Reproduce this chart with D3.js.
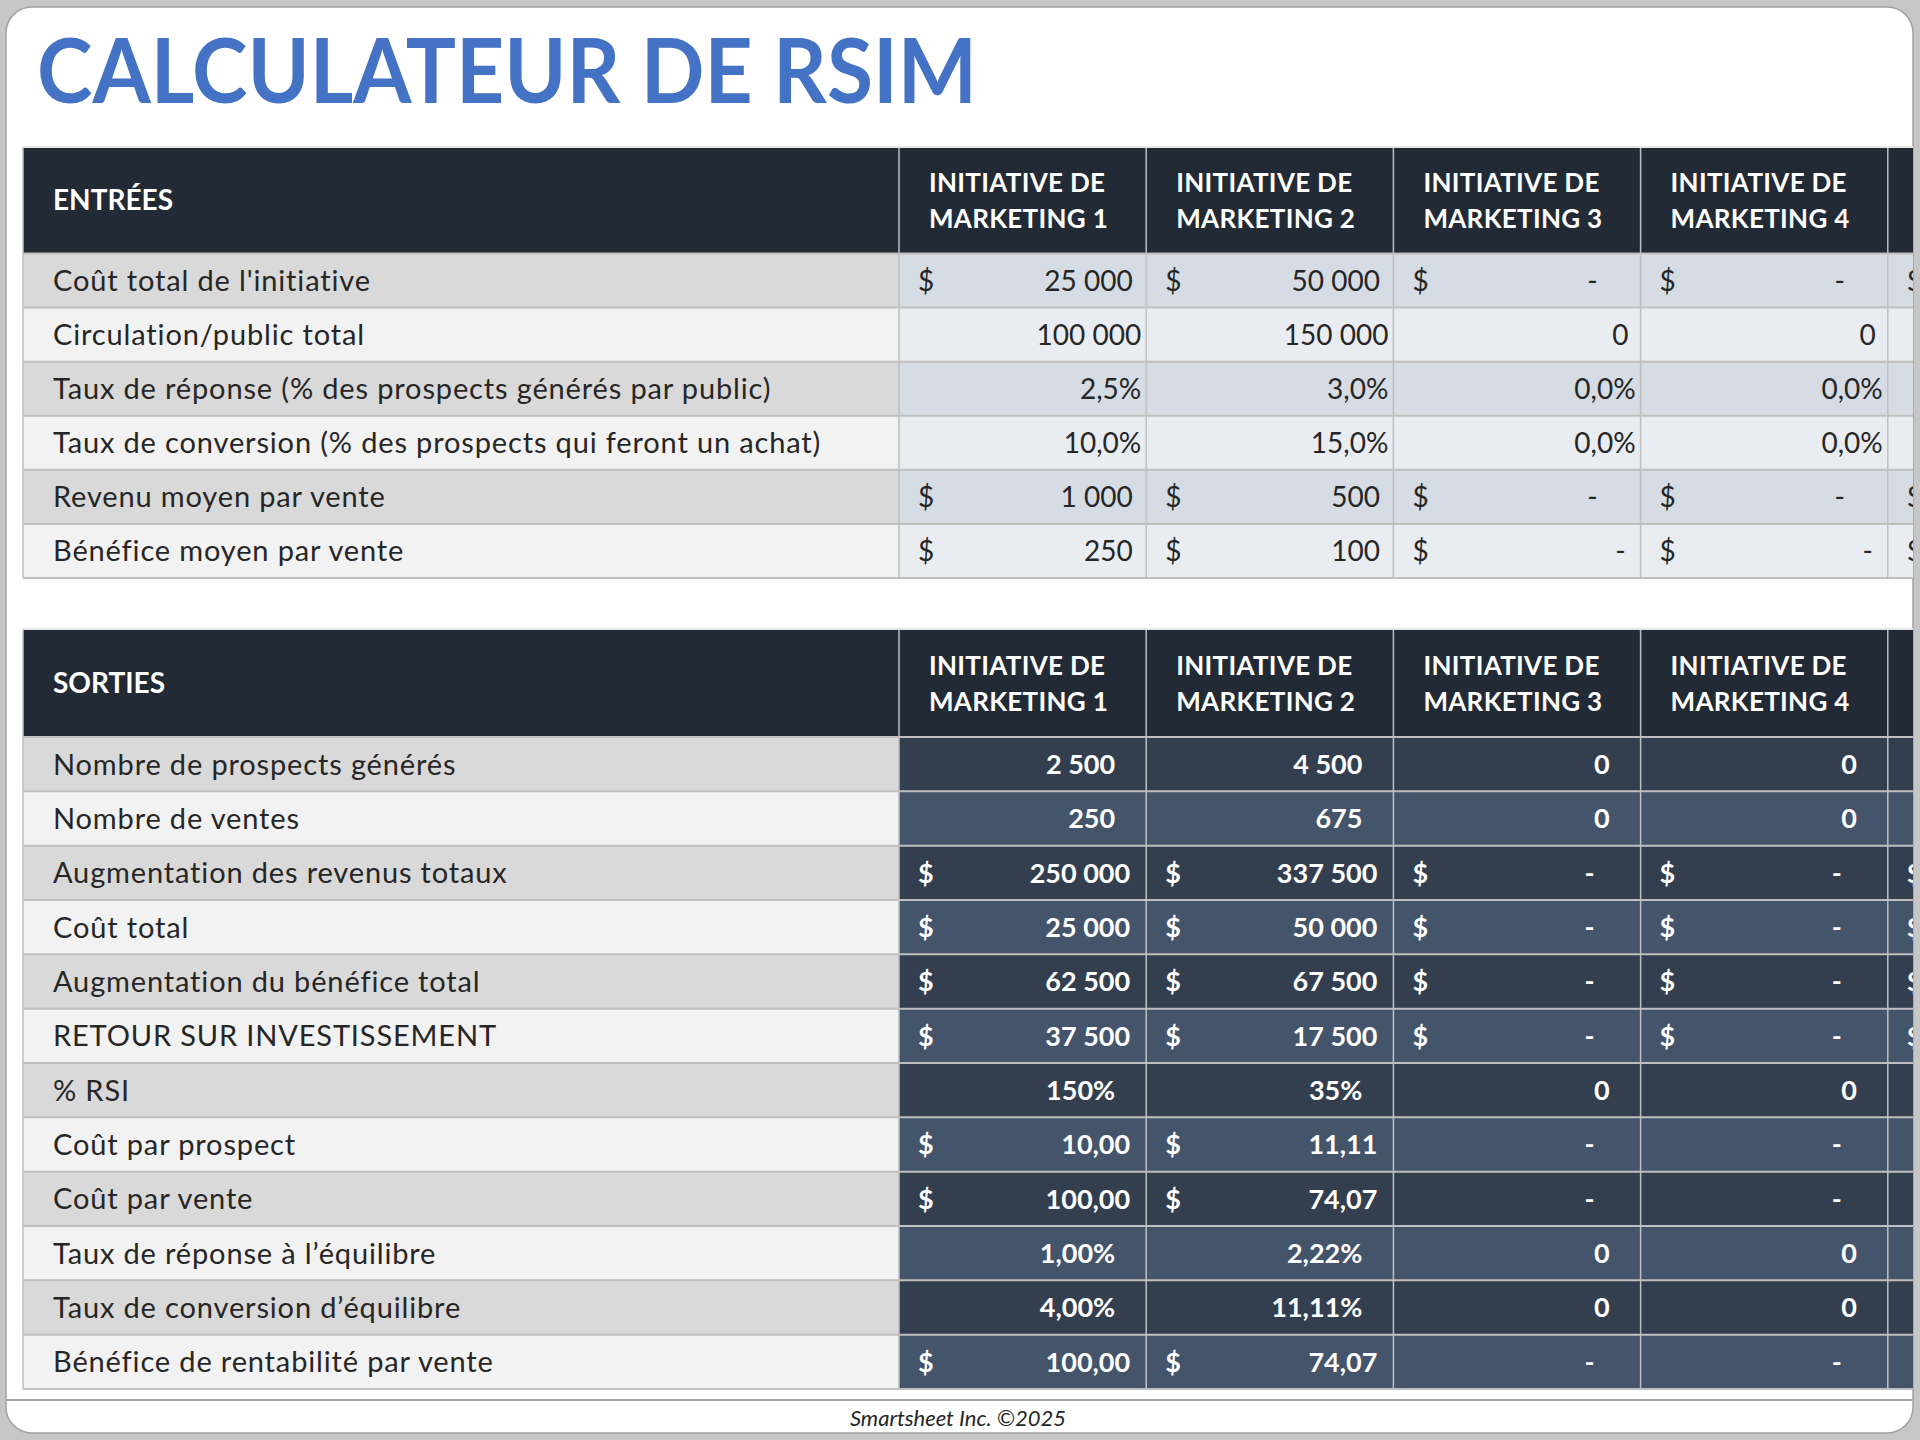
<!DOCTYPE html>
<html>
<head>
<meta charset="utf-8">
<script src="https://cdn.jsdelivr.net/npm/d3@7"></script>
<style>
  html, body { margin: 0; padding: 0; background: #c6c6c6; }
  svg { display: block; }
</style>
</head>
<body>
<svg id="sheet"></svg>
<script>
/* ROI calculator sheet (French), drawn as SVG with d3. */
var titleText = "CALCULATEUR DE RSIM";
var footerText = "Smartsheet Inc. \u00a92025";

var initiatives = [
  "INITIATIVE DE MARKETING 1",
  "INITIATIVE DE MARKETING 2",
  "INITIATIVE DE MARKETING 3",
  "INITIATIVE DE MARKETING 4",
  "INITIATIVE DE MARKETING 5"
];

// ENTRÉES
var inputLabels = [
  "Co\u00fbt total de l'initiative",
  "Circulation/public total",
  "Taux de r\u00e9ponse (% des prospects g\u00e9n\u00e9r\u00e9s par public)",
  "Taux de conversion (% des prospects qui feront un achat)",
  "Revenu moyen par vente",
  "B\u00e9n\u00e9fice moyen par vente"
];
var inputFormats = ["acct", "int", "pct1", "pct1", "acct", "acctTight"];
var inputCost = [25000, 50000, 0, 0, 0];
var inputAudience = [100000, 150000, 0, 0, 0];
var inputResponse = [2.5, 3.0, 0, 0, 0];
var inputConversion = [10.0, 15.0, 0, 0, 0];
var inputRevenue = [1000, 500, 0, 0, 0];
var inputProfit = [250, 100, 0, 0, 0];
var inputValues = [inputCost, inputAudience, inputResponse, inputConversion, inputRevenue, inputProfit];

// SORTIES
var outputLabels = [
  "Nombre de prospects g\u00e9n\u00e9r\u00e9s",
  "Nombre de ventes",
  "Augmentation des revenus totaux",
  "Co\u00fbt total",
  "Augmentation du b\u00e9n\u00e9fice total",
  "RETOUR SUR INVESTISSEMENT",
  "% RSI",
  "Co\u00fbt par prospect",
  "Co\u00fbt par vente",
  "Taux de r\u00e9ponse \u00e0 l\u2019\u00e9quilibre",
  "Taux de conversion d\u2019\u00e9quilibre",
  "B\u00e9n\u00e9fice de rentabilit\u00e9 par vente"
];
var outputFormats = ["int", "int", "acct", "acct", "acct", "acct", "pct0", "money2", "money2", "pct2", "pct2", "money2"];
var outProspects = [2500, 4500, 0, 0, 0];
var outSales = [250, 675, 0, 0, 0];
var outRevenue = [250000, 337500, 0, 0, 0];
var outCost = [25000, 50000, 0, 0, 0];
var outProfit = [62500, 67500, 0, 0, 0];
var outReturn = [37500, 17500, 0, 0, 0];
var outRoiPct = [150, 35, 0, 0, 0];
var outCostPerProspect = [10.00, 11.11, 0, 0, 0];
var outCostPerSale = [100.00, 74.07, 0, 0, 0];
var outBreakResponse = [1.00, 2.22, 0, 0, 0];
var outBreakConversion = [4.00, 11.11, 0, 0, 0];
var outBreakProfit = [100.00, 74.07, 0, 0, 0];
var outputValues = [outProspects, outSales, outRevenue, outCost, outProfit, outReturn,
  outRoiPct, outCostPerProspect, outCostPerSale, outBreakResponse, outBreakConversion, outBreakProfit];

(function () {
  var W = 1920, H = 1440;
  var FONT = "Lato, 'Open Sans', 'DejaVu Sans', sans-serif";

  var fr = d3.formatLocale({ decimal: ",", thousands: "\u00a0", grouping: [3], currency: ["", ""] });
  var f0 = fr.format(",.0f"), f1 = fr.format(",.1f"), f2 = fr.format(",.2f");

  var svg = d3.select("#sheet")
    .attr("width", W).attr("height", H)
    .attr("viewBox", [0, 0, W, H]);

  svg.append("rect").attr("width", W).attr("height", H).attr("fill", "#c6c6c6");

  var card = { x: 6, y: 7, w: 1907, h: 1426, r: 26 };
  var clipRight = card.x + card.w;
  svg.append("defs").append("clipPath").attr("id", "cardClip")
    .append("rect")
    .attr("x", card.x).attr("y", card.y)
    .attr("width", card.w).attr("height", card.h)
    .attr("rx", card.r);

  svg.append("rect")
    .attr("x", card.x).attr("y", card.y)
    .attr("width", card.w).attr("height", card.h)
    .attr("rx", card.r)
    .attr("fill", "#ffffff")
    .attr("stroke", "#a3a3a3")
    .attr("stroke-width", 1.5);

  var g = svg.append("g").attr("clip-path", "url(#cardClip)");

  // title
  g.append("text")
    .attr("x", 37).attr("y", 103)
    .attr("fill", "#4472c4")
    .attr("font-family", FONT)
    .attr("font-weight", 700)
    .attr("font-size", 90)
    .attr("textLength", 940)
    .attr("lengthAdjust", "spacingAndGlyphs")
    .text(titleText);

  var labelLeft = 23, labelRight = 899, colW = 247.2;
  var colX = d3.scaleLinear().domain([0, 1]).range([labelRight, labelRight + colW]);
  var headInset = 30;

  var pads = {
    input: { acct: 13.5, dash: 43, tight: 15, num: 5, zero: 12, dollar: 19 },
    output: { acct: 16, dash: 46, tight: 16, num: 31, zero: 31, dollar: 19 }
  };

  function cellParts(fmt, v, p) {
    switch (fmt) {
      case "acct":
        return v === 0 ? { sym: "$", text: "-", pad: p.dash } : { sym: "$", text: f0(v), pad: p.acct };
      case "acctTight":
        return v === 0 ? { sym: "$", text: "-", pad: p.tight } : { sym: "$", text: f0(v), pad: p.acct };
      case "int":
        return v === 0 ? { sym: "", text: "0", pad: p.zero } : { sym: "", text: f0(v), pad: p.num };
      case "pct1":
        return { sym: "", text: f1(v) + "%", pad: p.num };
      case "pct0":
        return v === 0 ? { sym: "", text: "0", pad: p.zero } : { sym: "", text: f0(v) + "%", pad: p.num };
      case "pct2":
        return v === 0 ? { sym: "", text: "0", pad: p.zero } : { sym: "", text: f2(v) + "%", pad: p.num };
      case "money2":
        return v === 0 ? { sym: "", text: "-", pad: p.dash } : { sym: "$", text: f2(v), pad: p.acct };
    }
    return { sym: "", text: String(v), pad: p.num };
  }

  // the sheet is cut at the card edge: skip texts of columns that start past it
  function colVisible(c, inset) { return colX(c) + inset < clipRight; }

  function drawTable(o) {
    var t = g.append("g").attr("class", "table");
    var nCols = initiatives.length;
    var rows = d3.scaleBand().domain(d3.range(o.labels.length)).range([o.headBottom, o.bottom]);
    var rh = rows.bandwidth();
    var right = colX(nCols);

    // header band
    t.append("rect")
      .attr("x", labelLeft).attr("y", o.top)
      .attr("width", right - labelLeft).attr("height", o.headBottom - o.top)
      .attr("fill", "#222a35");
    t.append("text")
      .attr("x", 53).attr("y", (o.top + o.headBottom) / 2)
      .attr("dy", "0.36em")
      .attr("fill", "#ffffff")
      .attr("font-family", FONT).attr("font-weight", 700).attr("font-size", 28)
      .text(o.heading);
    var heads = initiatives.map(function (d, i) { return { name: d, c: i }; })
      .filter(function (d) { return colVisible(d.c, headInset); });
    var hc = t.selectAll("text.colhead").data(heads).join("text")
      .attr("class", "colhead")
      .attr("x", function (d) { return colX(d.c) + headInset; })
      .attr("y", (o.top + o.headBottom) / 2)
      .attr("fill", "#ffffff")
      .attr("font-family", FONT).attr("font-weight", 700).attr("font-size", 26)
      .attr("letter-spacing", 0.3);
    hc.append("tspan").attr("dy", "-0.3em")
      .text(function (d) { return d.name.slice(0, d.name.indexOf(" DE ") + 3); });
    hc.append("tspan")
      .attr("x", function (d) { return colX(d.c) + headInset; })
      .attr("dy", "1.36em")
      .text(function (d) { return d.name.slice(d.name.indexOf(" DE ") + 4); });

    // label cells
    t.selectAll("rect.label").data(o.labels).join("rect")
      .attr("class", "label")
      .attr("x", labelLeft).attr("y", function (d, i) { return rows(i); })
      .attr("width", labelRight - labelLeft).attr("height", rh)
      .attr("fill", function (d, i) { return i % 2 ? "#f2f2f2" : "#d9d9d9"; });
    t.selectAll("text.label").data(o.labels).join("text")
      .attr("class", "label")
      .attr("x", 53).attr("y", function (d, i) { return rows(i) + rh / 2; })
      .attr("dy", "0.36em")
      .attr("fill", "#262626")
      .attr("font-family", FONT).attr("font-size", 29)
      .attr("letter-spacing", 0.85)
      .text(function (d) { return d; });

    // value cells
    var cells = [];
    o.values.forEach(function (arr, r) {
      arr.forEach(function (v, c) {
        cells.push({ r: r, c: c, v: v, parts: cellParts(o.formats[r], v, o.pad) });
      });
    });
    t.selectAll("rect.val").data(cells).join("rect")
      .attr("class", "val")
      .attr("x", function (d) { return colX(d.c); })
      .attr("y", function (d) { return rows(d.r); })
      .attr("width", colW).attr("height", rh)
      .attr("fill", function (d) { return d.r % 2 ? o.fillB : o.fillA; });
    t.selectAll("text.sym")
      .data(cells.filter(function (d) { return d.parts.sym && colVisible(d.c, o.pad.dollar); }))
      .join("text")
      .attr("class", "sym")
      .attr("x", function (d) { return colX(d.c) + o.pad.dollar; })
      .attr("y", function (d) { return rows(d.r) + rh / 2; })
      .attr("dy", "0.36em")
      .attr("fill", o.textColor)
      .attr("font-family", FONT).attr("font-weight", o.weight).attr("font-size", o.valueSize)
      .text(function (d) { return d.parts.sym; });
    t.selectAll("text.num")
      .data(cells.filter(function (d) { return colVisible(d.c, headInset); }))
      .join("text")
      .attr("class", "num")
      .attr("x", function (d) { return colX(d.c + 1) - d.parts.pad; })
      .attr("y", function (d) { return rows(d.r) + rh / 2; })
      .attr("dy", "0.36em")
      .attr("text-anchor", "end")
      .attr("fill", o.textColor)
      .attr("font-family", FONT).attr("font-weight", o.weight).attr("font-size", o.valueSize)
      .text(function (d) { return d.parts.text; });

    // grid
    var hLines = d3.range(o.labels.length + 1).map(function (i) { return i < o.labels.length ? rows(i) : o.bottom; });
    t.selectAll("line.h").data(hLines).join("line")
      .attr("class", "h")
      .attr("x1", labelLeft).attr("x2", right)
      .attr("y1", function (d) { return d; }).attr("y2", function (d) { return d; })
      .attr("stroke", "#bfbfbf").attr("stroke-width", 2);
    t.selectAll("line.v").data(d3.range(nCols + 1)).join("line")
      .attr("class", "v")
      .attr("x1", function (d) { return colX(d); }).attr("x2", function (d) { return colX(d); })
      .attr("y1", o.top).attr("y2", o.bottom)
      .attr("stroke", "#bfbfbf").attr("stroke-width", 1.5);
    t.append("line")
      .attr("x1", labelLeft).attr("x2", labelLeft)
      .attr("y1", o.top).attr("y2", o.bottom)
      .attr("stroke", "#bfbfbf").attr("stroke-width", 1.5);
    t.append("line")
      .attr("x1", labelLeft).attr("x2", right)
      .attr("y1", o.top).attr("y2", o.top)
      .attr("stroke", "#e6e6e6").attr("stroke-width", 2);
  }

  drawTable({
    top: 147, headBottom: 253.5, bottom: 578,
    heading: "ENTR\u00c9ES",
    labels: inputLabels, formats: inputFormats, values: inputValues,
    fillA: "#d6dce4", fillB: "#e9edf2", textColor: "#262626",
    weight: 400, valueSize: 28, pad: pads.input
  });

  drawTable({
    top: 629, headBottom: 737, bottom: 1389,
    heading: "SORTIES",
    labels: outputLabels, formats: outputFormats, values: outputValues,
    fillA: "#333f4f", fillB: "#44546a", textColor: "#ffffff",
    weight: 700, valueSize: 27, pad: pads.output
  });

  // footer strip
  g.append("line")
    .attr("x1", card.x).attr("x2", card.x + card.w)
    .attr("y1", 1400).attr("y2", 1400)
    .attr("stroke", "#a6a6a6").attr("stroke-width", 2);
  g.append("text")
    .attr("x", 958).attr("y", 1426)
    .attr("text-anchor", "middle")
    .attr("fill", "#262626")
    .attr("font-family", FONT).attr("font-style", "italic").attr("font-size", 22)
    .text(footerText);
})();
</script>
</body>
</html>
